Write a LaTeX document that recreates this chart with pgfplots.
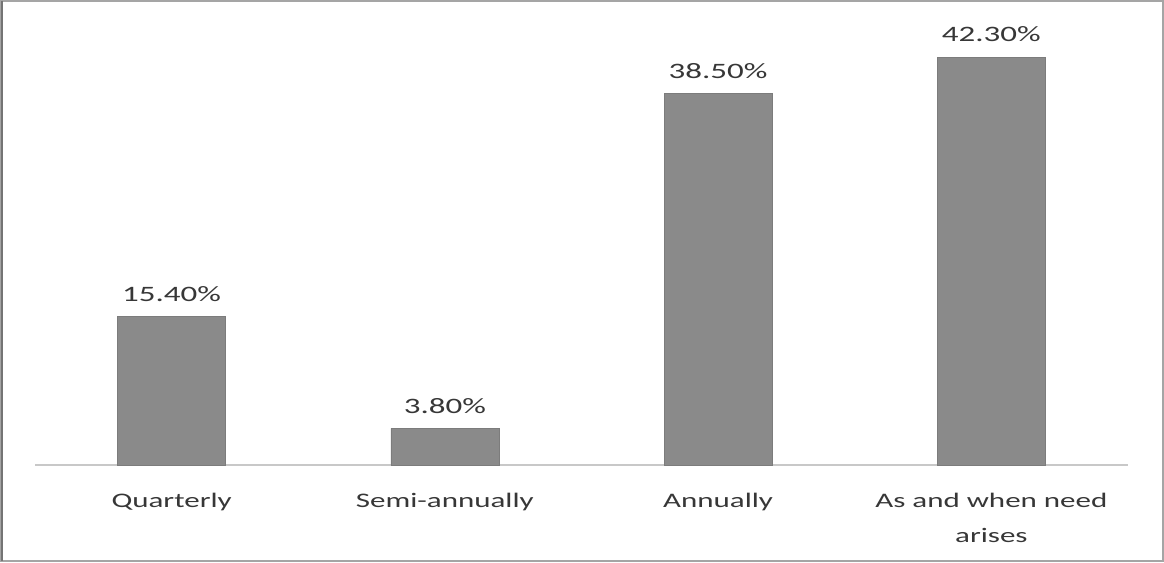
\documentclass[border=0pt]{standalone}
\usepackage{fontspec}
\setmainfont{Carlito}[FakeStretch=1.5]
\usepackage{pgfplots}
\pgfplotsset{compat=1.18}
\definecolor{barfill}{RGB}{138,138,138}
\definecolor{framecol}{RGB}{165,165,165}
\definecolor{txt}{RGB}{55,55,55}
\definecolor{baseln}{RGB}{200,200,200}
\begin{document}
\begin{tikzpicture}[x=0.75pt,y=0.75pt]
\useasboundingbox (0,0) rectangle (1164,562);
\draw[framecol, line width=1.0pt] (1,1) rectangle (1163,561);
\draw[framecol!70!black, line width=1.6pt] (2,1) -- (2,561);
\begin{axis}[
  at={(26.25pt,72.75pt)}, anchor=south west,
  scale only axis, width=819.75pt, height=325.5pt,
  ybar, bar width=81pt,
  xmin=-0.5, xmax=3.5, ymin=0, ymax=45,
  axis x line*=bottom, hide y axis,
  x axis line style={baseln, line width=0.8pt, -},
  xtick=data, xtick style={draw=none},
  xticklabels={Quarterly, Semi-annually, Annually, {As and when need\\arises}},
  xticklabel style={font=\fontsize{15.5pt}{26pt}\selectfont, text=txt, align=center, inner sep=0pt, anchor=north, yshift=-17pt},
  nodes near coords={\pgfmathprintnumber[fixed,precision=2,fixed zerofill,assume math mode=true]{\pgfplotspointmeta}\%},
  every node near coord/.append style={font=\fontsize{16.5pt}{19pt}\selectfont, text=txt, inner sep=0pt, anchor=south, yshift=11pt},
  clip=false,
]
\addplot[fill=barfill, draw=barfill!90!black] coordinates {(0,15.4) (1,3.8) (2,38.5) (3,42.3)};
\end{axis}
\end{tikzpicture}
\end{document}
